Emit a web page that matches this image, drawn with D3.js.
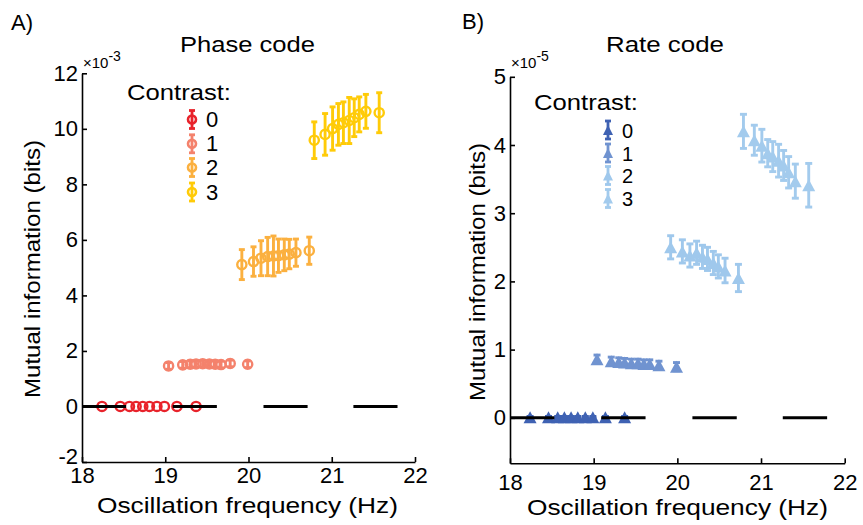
<!DOCTYPE html>
<html>
<head>
<meta charset="utf-8">
<script src="https://cdn.jsdelivr.net/npm/d3@7"></script>
<style>
  body { margin: 0; background: #fff; }
  svg text { font-family: "Liberation Sans", Arial, sans-serif; fill: #000; }
</style>
</head>
<body>
<svg id="chart" width="863" height="525"></svg>
<script>
// oscillation frequency of each point, one row per contrast level
const freqs = [
  [18.24, 18.46, 18.57, 18.65, 18.73, 18.81, 18.90, 18.99, 19.14, 19.37],
  [19.04, 19.21, 19.30, 19.37, 19.45, 19.53, 19.60, 19.67, 19.78, 19.99],
  [19.92, 20.06, 20.15, 20.23, 20.30, 20.36, 20.43, 20.49, 20.57, 20.73],
  [20.79, 20.92, 21.01, 21.08, 21.14, 21.21, 21.27, 21.33, 21.41, 21.57]
];

// phase code MI (x10^-3 bits)
const phaseMI = [
  [0, 0, 0, 0, 0, 0, 0, 0, 0, 0],
  [1.46, 1.50, 1.52, 1.53, 1.54, 1.53, 1.52, 1.51, 1.55, 1.52],
  [5.11, 5.22, 5.34, 5.40, 5.42, 5.43, 5.46, 5.49, 5.54, 5.61],
  [9.59, 9.80, 10.01, 10.16, 10.22, 10.30, 10.40, 10.52, 10.63, 10.58]
];
const phaseErr = [
  [0, 0, 0, 0, 0, 0, 0, 0, 0, 0],
  [0.12, 0.12, 0.12, 0.12, 0.12, 0.12, 0.12, 0.12, 0.12, 0.12],
  [0.54, 0.53, 0.63, 0.69, 0.72, 0.60, 0.57, 0.53, 0.49, 0.49],
  [0.66, 0.75, 0.78, 0.75, 0.75, 0.83, 0.68, 0.63, 0.61, 0.72]
];

// rate code MI (x10^-5 bits)
const rateMI = [
  [0.01, 0.01, 0.01, 0.01, 0.01, 0.01, 0.01, 0.01, 0.01, 0.01],
  [0.86, 0.83, 0.82, 0.81, 0.80, 0.80, 0.79, 0.79, 0.77, 0.75],
  [2.50, 2.44, 2.38, 2.42, 2.36, 2.33, 2.27, 2.22, 2.16, 2.05],
  [4.20, 4.07, 3.99, 3.88, 3.83, 3.77, 3.70, 3.60, 3.47, 3.41]
];
const rateErr = [
  [0.01, 0.01, 0.01, 0.01, 0.01, 0.01, 0.01, 0.01, 0.01, 0.01],
  [0.06, 0.06, 0.06, 0.06, 0.06, 0.06, 0.06, 0.06, 0.06, 0.06],
  [0.17, 0.17, 0.17, 0.17, 0.17, 0.17, 0.17, 0.17, 0.18, 0.20],
  [0.25, 0.22, 0.24, 0.20, 0.22, 0.24, 0.22, 0.23, 0.25, 0.32]
];

// zero-level reference segments (Hz)
const zeroSegments = [[18.0, 18.53], [19.09, 19.62], [20.18, 20.71], [21.26, 21.79]];

const contrasts = ["0", "1", "2", "3"];
const xTicks = [18, 19, 20, 21, 22];
const phaseTicks = [-2, 0, 2, 4, 6, 8, 10, 12];
const rateTicks = [0, 1, 2, 3, 4, 5];

const phaseColors = ["#e8232b", "#f4826c", "#fbb03f", "#ffcb08"];
const rateColors = ["#3f62b3", "#7093d0", "#9fc8ec", "#a3cbed"];

const svg = d3.select("#chart");

function triPath(w, h) {
  return `M0,${-h / 2}L${w / 2},${h / 2}L${-w / 2},${h / 2}Z`;
}

function drawPanel(p) {
  const g = svg.append("g");
  const x = d3.scaleLinear().domain([18, 22]).range([p.left, p.right]);
  const y = d3.scaleLinear().domain(p.yDomain).range([p.bottom, p.top]);

  // axes (ticks point inward, like matlab)
  const ax = g.append("g")
    .attr("transform", `translate(0,${p.bottom})`)
    .call(d3.axisBottom(x).tickValues(xTicks).tickFormat((d) => String(d))
      .tickSizeInner(-5).tickSizeOuter(0).tickPadding(p.xPad));
  const ay = g.append("g")
    .attr("transform", `translate(${p.left},0)`)
    .call(d3.axisLeft(y).tickValues(p.yTicks).tickFormat((d) => String(d))
      .tickSizeInner(-5).tickSizeOuter(0).tickPadding(4));
  [ax, ay].forEach((a) => {
    a.selectAll("path, line").attr("stroke", "#000").attr("stroke-width", 1.6);
    a.selectAll("text").attr("font-size", "22px").attr("font-family", "Liberation Sans, Arial, sans-serif");
  });
  // lowest y label sits a little higher, clear of the x labels
  ay.selectAll(".tick text").filter((d) => d === p.yTicks[0] && d < 0).attr("dy", "0.05em");

  // error bars + markers
  p.values.forEach((vals, c) => {
    const col = p.colors[c];
    const pts = vals.map((v, i) => ({ f: freqs[c][i], v: v, e: p.errs[c][i] }));
    const eg = g.append("g").attr("stroke", col).attr("stroke-width", 2.9);
    pts.forEach((d) => {
      if (d.e <= 0) return;
      eg.append("line")
        .attr("x1", x(d.f)).attr("x2", x(d.f))
        .attr("y1", y(d.v - d.e)).attr("y2", y(d.v + d.e));
      [d.v - d.e, d.v + d.e].forEach((yy) => {
        eg.append("line")
          .attr("x1", x(d.f) - p.cap).attr("x2", x(d.f) + p.cap)
          .attr("y1", y(yy)).attr("y2", y(yy));
      });
    });
    if (p.marker === "circle") {
      g.append("g").selectAll("circle").data(pts).join("circle")
        .attr("cx", (d) => x(d.f)).attr("cy", (d) => y(d.v))
        .attr("r", 4.6).attr("fill", "none")
        .attr("stroke", col).attr("stroke-width", 2.4);
    } else {
      g.append("g").selectAll("path").data(pts).join("path")
        .attr("d", triPath(13, 12))
        .attr("transform", (d) => `translate(${x(d.f)},${y(d.v)})`)
        .attr("fill", col);
    }
  });

  // zero reference lines
  g.append("g").selectAll("line").data(zeroSegments).join("line")
    .attr("x1", (d) => x(d[0])).attr("x2", (d) => x(d[1]))
    .attr("y1", y(0)).attr("y2", y(0))
    .attr("stroke", "#000").attr("stroke-width", 3);

  // legend
  g.append("text").attr("x", p.legX).attr("y", p.legY)
    .attr("font-size", "22px").attr("textLength", 104).attr("lengthAdjust", "spacingAndGlyphs")
    .text("Contrast:");
  contrasts.forEach((lab, c) => {
    const cy = p.legRows[c];
    const lg = g.append("g").attr("transform", `translate(${p.legMarkX},${cy})`);
    lg.append("line").attr("y1", -9).attr("y2", 9).attr("stroke", p.colors[c]).attr("stroke-width", 2.8);
    [-9, 9].forEach((yy) => lg.append("line").attr("x1", -3).attr("x2", 3).attr("y1", yy).attr("y2", yy)
      .attr("stroke", p.colors[c]).attr("stroke-width", 2.8));
    if (p.marker === "circle") {
      lg.append("circle").attr("r", 4).attr("fill", "none").attr("stroke", p.colors[c]).attr("stroke-width", 2.6);
    } else {
      lg.append("path").attr("d", triPath(10, 10)).attr("fill", p.colors[c]);
    }
    g.append("text").attr("x", p.legMarkX + 14).attr("y", cy + 7.5)
      .attr("font-size", p.legFont).text(lab);
  });

  // titles and labels
  g.append("text").attr("x", p.panelX).attr("y", p.panelY).attr("font-size", "22px").text(p.panel);
  g.append("text").attr("x", p.titleX).attr("y", 52).attr("font-size", "22px")
    .attr("textLength", p.titleLen).attr("lengthAdjust", "spacingAndGlyphs").text(p.title);
  const ex = g.append("text").attr("x", p.left + 1).attr("y", 68).attr("font-size", "15px");
  ex.append("tspan").text("\u00d710");
  ex.append("tspan").attr("dy", -7).attr("font-size", "14px").text(p.exponent);

  g.append("text").attr("x", p.xLabX).attr("y", p.xLabY).attr("font-size", "22px")
    .attr("textLength", 301).attr("lengthAdjust", "spacingAndGlyphs")
    .text("Oscillation frequency (Hz)");
  g.append("text")
    .attr("transform", `translate(${p.yLabX},${p.yLabY}) rotate(-90)`)
    .attr("text-anchor", "middle").attr("font-size", "22px")
    .attr("textLength", 258).attr("lengthAdjust", "spacingAndGlyphs")
    .text("Mutual information (bits)");
}

drawPanel({
  left: 82, right: 415, top: 73.3, bottom: 462, yDomain: [-2, 12], yTicks: phaseTicks,
  xPad: 5, values: phaseMI, errs: phaseErr, colors: phaseColors, marker: "circle", cap: 3,
  legX: 127, legY: 100, legMarkX: 192, legRows: [119.5, 143.8, 167.5, 192], legFont: "22px",
  panel: "A)", panelX: 11, panelY: 30, title: "Phase code", titleX: 180, titleLen: 135,
  exponent: "-3", xLabX: 97, xLabY: 513, yLabX: 40, yLabY: 269
});

drawPanel({
  left: 510, right: 844.7, top: 76.8, bottom: 463.3, yDomain: [-0.667, 5], yTicks: rateTicks,
  xPad: 11, values: rateMI, errs: rateErr, colors: rateColors, marker: "triangle", cap: 3.5,
  legX: 534, legY: 110, legMarkX: 608, legRows: [130, 153, 175.5, 198.5], legFont: "20px",
  panel: "B)", panelX: 462, panelY: 29, title: "Rate code", titleX: 606, titleLen: 118,
  exponent: "-5", xLabX: 527, xLabY: 515, yLabX: 485, yLabY: 272
});
</script>
</body>
</html>
